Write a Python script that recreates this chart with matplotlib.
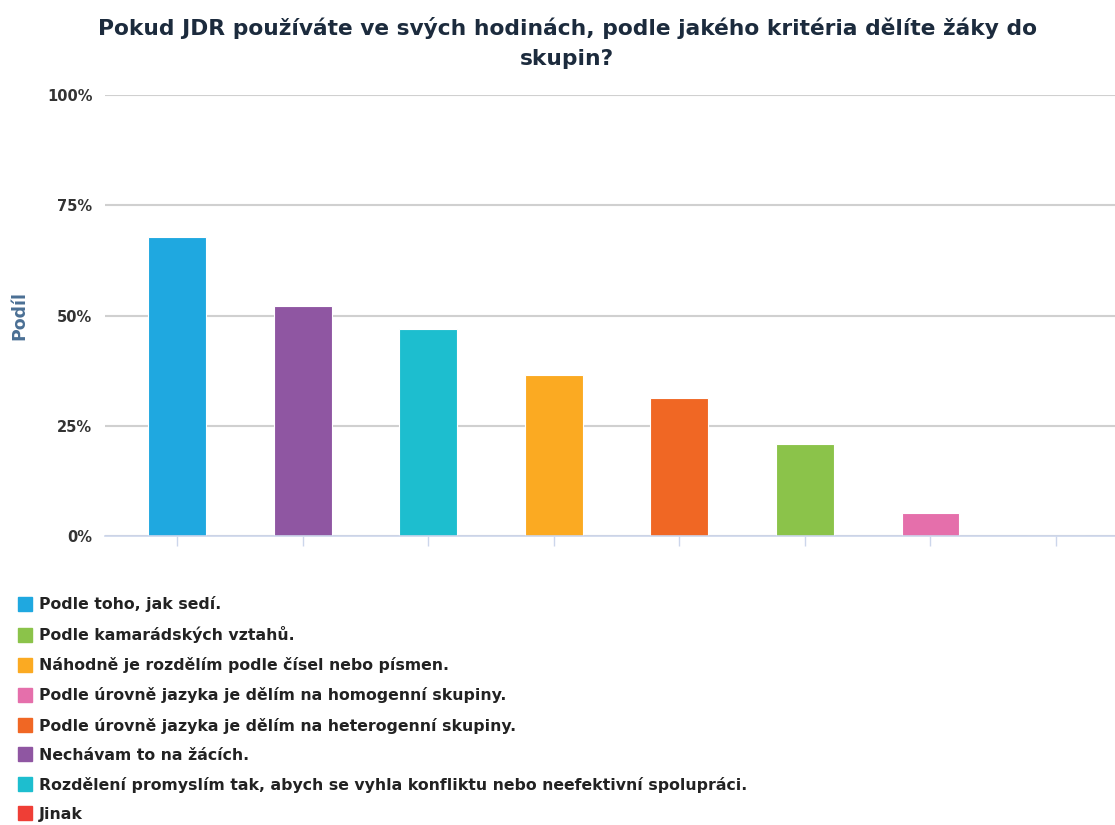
import numpy as np
import matplotlib
matplotlib.use('Agg')
import matplotlib.pyplot as plt
from matplotlib.lines import Line2D

plt.rcParams['font.family'] = ['DejaVu Sans']

# odpovědi v pořadí legendy
odpovedi = [
    'Podle toho, jak sedí.',
    'Podle kamarádských vztahů.',
    'Náhodně je rozdělím podle čísel nebo písmen.',
    'Podle úrovně jazyka je dělím na homogenní skupiny.',
    'Podle úrovně jazyka je dělím na heterogenní skupiny.',
    'Nechávam to na žácích.',
    'Rozdělení promyslím tak, abych se vyhla konfliktu nebo neefektivní spolupráci.',
    'Jinak',
]
podil = [67.7, 20.8, 36.5, 5.2, 31.3, 52.1, 46.9, 0.0]
barvy = ['#1fa8e0', '#8bc34a', '#fbaa22', '#e56fab',
         '#f06724', '#8f56a2', '#1dbecf', '#ef3e36']
yticks = [0, 25, 50, 75, 100]

titulek = 'Pokud JDR používáte ve svých hodinách, podle jakého kritéria dělíte žáky do\nskupin?'

fig = plt.figure(figsize=(11.15, 8.25), dpi=100)
W, H = 1115, 825
# plocha grafu v pixelech: x 105..1115, y 95..536
ax = fig.add_axes([105 / W, 1 - 536 / H, 1010 / W, 441 / H])

# sloupce seřazené sestupně
poradi = np.argsort(-np.array(podil), kind='stable')
x = np.arange(len(poradi))
ax.bar(x, [podil[i] for i in poradi], width=0.46,
       color=[barvy[i] for i in poradi], edgecolor='white', linewidth=0.8, zorder=3)

ax.set_xlim(-0.574, 7.47)
ax.set_ylim(0, 100)
ax.set_yticks(yticks)
ax.set_yticklabels([f'{t}%' for t in yticks], fontsize=10.5, fontweight='bold', color='#333333')
ax.set_xticks(x)
ax.set_xticklabels([])
ax.tick_params(axis='y', length=0, pad=9)
ax.tick_params(axis='x', length=7, width=1, color='#ccd6eb')
ax.grid(axis='y', color='#d0d0d0', linewidth=1.5, zorder=0)
for s in ['top', 'right', 'left']:
    ax.spines[s].set_visible(False)
ax.spines['bottom'].set_color('#ccd6eb')
ax.spines['bottom'].set_linewidth(1.2)
ax.spines['bottom'].set_zorder(4)

ax.set_ylabel('Podíl', fontsize=12.5, fontweight='bold', color='#4a6f94')
ax.yaxis.set_label_coords(-0.076, 0.5)

fig.text(567 / W, 1 - 43 / H, titulek, ha='center', va='center', fontsize=15.7,
         fontweight='bold', color='#1c2b3d', linespacing=1.65)

# legenda pod grafem
handles = [Line2D([], [], linestyle='none', marker='s', markersize=10,
                  markerfacecolor=barvy[i], markeredgecolor=barvy[i])
           for i in range(len(odpovedi))]
leg = fig.legend(handles, odpovedi, loc='upper left',
                 bbox_to_anchor=(19 / W, 1 - 596 / H), frameon=False,
                 prop={'size': 11.3, 'weight': 'bold'}, labelcolor='#222222',
                 handlelength=0.8, handletextpad=0.45, labelspacing=0.9,
                 borderaxespad=0, borderpad=0)

fig.savefig('out.png', dpi=100)
